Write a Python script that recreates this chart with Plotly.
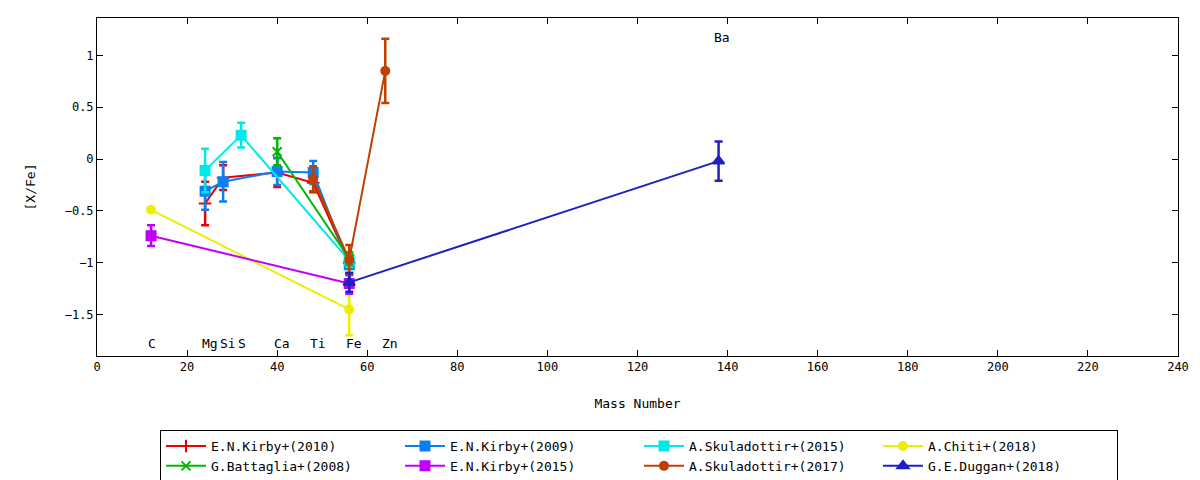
import plotly.graph_objects as go

# [X/Fe] vs mass number, one list per paper
names = ['E.N.Kirby+(2010)', 'E.N.Kirby+(2009)', 'A.Skuladottir+(2015)', 'A.Chiti+(2018)',
         'G.Battaglia+(2008)', 'E.N.Kirby+(2015)', 'A.Skuladottir+(2017)', 'G.E.Duggan+(2018)']

kirby10_mass = [24, 28, 40, 48, 56]
kirby10_val = [-0.43, -0.18, -0.13, -0.23, -1.0]
kirby10_err = [0.21, 0.12, 0.14, 0.09, 0.05]

kirby09_mass = [24, 28, 40, 48, 56]
kirby09_val = [-0.31, -0.22, -0.12, -0.13, -1.02]
kirby09_err = [0.18, 0.19, 0.13, 0.11, 0.1]

skul15_mass = [24, 32, 56]
skul15_val = [-0.11, 0.23, -0.98]
skul15_err = [0.21, 0.12, 0.06]

chiti_mass = [12, 56]
chiti_val = [-0.49, -1.45]
chiti_err = [0.02, 0.25]

battaglia_mass = [40, 56]
battaglia_val = [0.07, -0.96]
battaglia_err = [0.13, 0.06]

kirby15_mass = [12, 56]
kirby15_val = [-0.74, -1.2]
kirby15_err = [0.1, 0.1]

skul17_mass = [48, 56, 64]
skul17_val = [-0.19, -0.97, 0.85]
skul17_err = [0.12, 0.14, 0.31]

duggan_mass = [56, 138]
duggan_val = [-1.19, -0.02]
duggan_err = [0.09, 0.19]

elements = ['C', 'Mg', 'Si', 'S', 'Ca', 'Ti', 'Fe', 'Zn']
element_mass = [12, 24, 28, 32, 40, 48, 56, 64]

series = [
    (kirby10_mass, kirby10_val, kirby10_err, '#ee0000', 'cross-thin', 9),
    (kirby09_mass, kirby09_val, kirby09_err, '#0a80f0', 'square', 9),
    (skul15_mass, skul15_val, skul15_err, '#00e8e8', 'square', 9),
    (chiti_mass, chiti_val, chiti_err, '#eeee00', 'circle', 8),
    (battaglia_mass, battaglia_val, battaglia_err, '#00b800', 'x-thin', 9),
    (kirby15_mass, kirby15_val, kirby15_err, '#c000ff', 'square', 9),
    (skul17_mass, skul17_val, skul17_err, '#c04000', 'circle', 8),
    (duggan_mass, duggan_val, duggan_err, '#2020c0', 'triangle-up', 10),
]

FONT = 'DejaVu Sans Mono'

fig = go.Figure()
for name, (m, v, e, col, sym, sz) in zip(names, series):
    fig.add_trace(go.Scatter(
        x=m, y=v, name=name, mode='lines+markers',
        line=dict(color=col, width=2),
        marker=dict(color=col, symbol=sym, size=sz, line=dict(color=col, width=2)),
        error_y=dict(type='data', array=e, color=col, thickness=2.5, width=4),
    ))

for el, m in zip(elements, element_mass):
    fig.add_annotation(x=m - 1.2, y=-1.78, text=el, showarrow=False,
                       xanchor='left', yanchor='middle')
fig.add_annotation(x=136.5, y=1.17, text='Ba', showarrow=False,
                   xanchor='left', yanchor='middle')

axis_style = dict(showline=True, linecolor='black', linewidth=1, mirror='ticks',
                  ticks='inside', ticklen=6, tickcolor='black', showgrid=False,
                  zeroline=False, automargin=False, tickfont=dict(size=12))

# page has an 8px body margin, so margins are trimmed on the top/left
fig.update_layout(
    width=1200, height=480,
    margin=dict(l=89, r=30, t=10, b=132),
    plot_bgcolor='white', paper_bgcolor='white',
    font=dict(family=FONT, size=13, color='black'),
    xaxis=dict(range=[0, 240], dtick=20,
               title=dict(text='Mass Number', standoff=25, font=dict(size=13)), **axis_style),
    yaxis=dict(range=[-1.9, 1.36], dtick=0.5,
               title=dict(text='[X/Fe]', standoff=26, font=dict(size=13)), **axis_style),
    legend=dict(orientation='h', xref='container', yref='container',
                x=152 / 1200, xanchor='left', y=1 - 422 / 480, yanchor='top',
                bordercolor='black', borderwidth=1, entrywidth=184, entrywidthmode='pixels',
                font=dict(family=FONT, size=13), itemwidth=40,
                tracegroupgap=0),
    showlegend=True,
)

fig.write_html('out.html')
